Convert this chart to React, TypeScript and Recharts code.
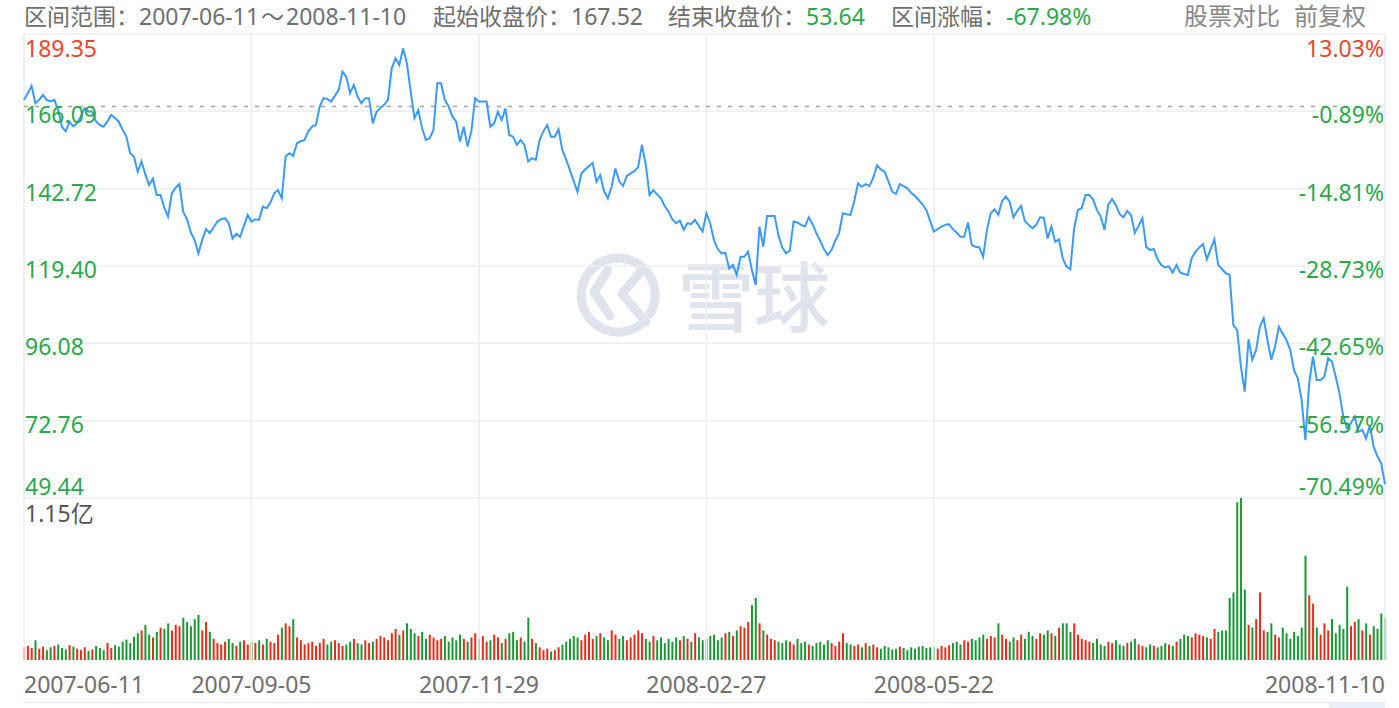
import React from "react";
import {
  Bar,
  BarChart,
  CartesianGrid,
  Cell,
  ComposedChart,
  Line,
  ReferenceLine,
  XAxis,
  YAxis,
} from "recharts";

const dateTicks = [0, 60, 120, 180, 240, 359];
const dateLabels = ["2007-06-11", "2007-09-05", "2007-11-29", "2008-02-27", "2008-05-22", "2008-11-10"];

const priceTicks = [49.44, 72.76, 96.08, 119.4, 142.72, 166.09, 189.35];
const pctLabels = ["-70.49%", "-56.57%", "-42.65%", "-28.73%", "-14.81%", "-0.89%", "13.03%"];

const startClose = 167.52;
const volMax = 11500; // 万股, 1.15亿

// daily close, one per trading day
const closes = [
  169.5, 171.5, 173.7, 168.5, 169.5, 171, 169.5, 169, 169.5, 166.4,
  161.4, 160, 162.9, 161.5, 162.5, 164.5, 167, 166, 166, 163,
  161.9, 161.4, 163, 164.9, 164, 162.9, 160.5, 158.4, 153.4, 152.4,
  147.8, 150.9, 147, 143.8, 145.8, 140.8, 140.8, 137, 134.3, 141.3,
  143, 144.1, 135.8, 133.5, 129.5, 127.2, 123.2, 127.2, 130.5, 129.3,
  131, 132.8, 133.5, 133.8, 132.3, 127.7, 129.1, 128.2, 131.5, 134.8,
  132.8, 133.5, 133.3, 137.3, 136.8, 138.5, 141.3, 142.3, 139.8, 152.4,
  153.4, 152.6, 156.4, 157, 157.4, 160, 161.4, 161.9, 167.5, 170,
  169.8, 169, 170.7, 172.5, 178, 176.5, 171.5, 174, 170.5, 168.5,
  170, 170, 162.4, 165.9, 167, 168, 169.5, 179, 182, 180,
  185, 180.5, 172, 164, 166.4, 161, 157.4, 157.9, 160.4, 174.5,
  174.5, 169.5, 167.5, 164.5, 162.9, 156.9, 161.4, 155.4, 160, 170,
  169, 169, 169, 161.4, 162.4, 165.9, 163.4, 166.9, 158.9, 158.4,
  155.9, 157.4, 155.9, 150.9, 151.9, 151.4, 157.4, 160, 161.9, 158.4,
  158.4, 160.6, 154.4, 151.5, 148.3, 145, 141.8, 147.3, 148.5, 149.5,
  150.5, 144.8, 146.8, 142, 139.8, 143.3, 148.8, 145, 143.5, 146.5,
  147.3, 148, 149.2, 155.9, 150, 140.8, 142.3, 141, 139.8, 137.5,
  135.8, 133.5, 132.3, 133.1, 130.3, 132.3, 132, 133.3, 131.5, 129.8,
  135.3, 132.3, 127.2, 124.5, 123.2, 123.4, 118.7, 119.7, 116.7, 122.2,
  122.2, 123.7, 118.2, 113.7, 131.3, 125.2, 134.5, 134.5, 134.5, 128.7,
  125, 123.2, 124, 132.8, 132.5, 131.8, 131.3, 134.1, 132, 129.3,
  127, 124.5, 122.7, 124.2, 127, 129.3, 135.3, 135, 134.8, 139,
  144.3, 143.3, 144.1, 143.5, 146, 149.8, 148.5, 147.8, 145, 141.8,
  141.1, 144.1, 143.5, 142.8, 141.5, 140.5, 139.3, 138, 136.3, 133,
  129.8, 130.5, 131.3, 131.8, 132, 130.5, 129.5, 128.2, 128.2, 132.5,
  125.7, 125.2, 125, 122.2, 130.3, 135.3, 136.5, 134.8, 139, 140.3,
  138.8, 134.1, 136, 137.5, 133, 131.8, 130.8, 131.8, 134.1, 134,
  127.7, 131.3, 126.7, 127.4, 121.7, 119.2, 118.4, 130.8, 136.3, 136.8,
  140.8, 140.8, 139.5, 136.3, 134.3, 130.3, 137.8, 139.6, 137.8, 135,
  134.1, 136, 134.8, 129.4, 131.5, 133.8, 125.2, 124.2, 124.5, 121.5,
  119.7, 119, 119.3, 117.4, 119.7, 117.4, 117, 116.7, 121.7, 123.7,
  125, 126, 121.4, 124.5, 127.4, 119.7, 118.5, 117.2, 116.8, 101.6,
  100.1, 89, 81.5, 97.3, 91.1, 94.1, 101.1, 103.6, 97, 91.1,
  95.1, 101.1, 99, 97.1, 94.1, 88, 85.5, 79, 66.9, 84,
  92.1, 85, 85, 86, 91.6, 90.6, 86, 81, 74, 70.4,
  72, 74, 69.4, 70, 67.4, 71.4, 64.9, 62, 59.9, 53.64,
];

// daily volume, 万股
const volumes = [
  900, 1000, 850, 1400, 800, 950, 700, 900, 1000, 1100,
  850, 750, 1050, 950, 800, 700, 900, 650, 750, 1000,
  850, 700, 1200, 850, 1050, 950, 1300, 1450, 1200, 1650,
  1900, 2100, 2500, 1800, 1600, 2000, 2300, 2200, 2600, 2100,
  2500, 2400, 3000, 2700, 2400, 2900, 3200, 2100, 2700, 2000,
  1500, 1200, 1100, 1300, 1500, 1200, 1000, 1300, 1400, 1100,
  1300, 1200, 1400, 1100, 1500, 1300, 1200, 1800, 2300, 2600,
  2400, 2900, 1600, 1400, 1100, 1200, 1300, 1000, 1200, 1500,
  1100, 1300, 1400, 1200, 1000, 1100, 1300, 1500, 1200, 1100,
  1400, 1200, 1300, 1500, 1700, 1600, 1400, 1900, 2200, 1800,
  2100, 2600, 2200, 1900, 1700, 2000, 1500, 1800, 1600, 1400,
  1500, 1700, 1300, 1600, 1400, 1800, 1500, 1300, 1600, 1900,
  1500, 1700, 1300, 1400, 1800, 1600, 1200, 1500, 1900, 2000,
  1400, 1600, 1300, 3000, 1500, 1200, 900, 700, 800, 600,
  700, 900, 1100, 1300, 1500, 1700, 1600, 1400, 1800, 2000,
  1500, 1700, 1900, 1600, 1400, 2100, 1800, 1500, 1700, 1400,
  1600, 1800, 2100, 1900, 1500, 1300, 1700, 1400, 1600, 1200,
  1500, 1300, 1600, 1400, 1700, 1500, 1300, 1900, 1600, 1400,
  1500, 1700, 1800, 1400, 1600, 1900, 2000, 1700, 2100, 2400,
  2300, 2700, 3900, 4400, 2600, 2100, 1800, 1500, 1400, 1300,
  1200, 1400, 1300, 1100, 1500, 1200, 1300, 1100, 1000, 1200,
  1300, 1100, 1400, 1200, 1000, 1300, 1900, 1200, 1100, 1000,
  1100, 900, 1200, 1000, 1100, 900, 800, 1000, 900, 750,
  800, 950, 850, 700, 900, 800, 950, 1000, 850, 900,
  950, 800, 1000, 900, 1050, 1200, 1300, 1100, 1400, 1300,
  1500, 1400, 1600, 1800, 1500, 1700, 1600, 2600, 1800, 1500,
  1300, 1600, 1400, 1800, 1500, 2000, 1700, 1500, 1900, 1800,
  2100, 1900, 1700, 2300, 2600, 2600, 2000, 2600, 1800, 1500,
  1400, 1300, 1200, 1500, 1100, 1000, 1300, 1200, 1400, 1100,
  1000, 1200, 1300, 1500, 1100, 1000, 900, 1100, 1000, 900,
  1000, 1200, 1100, 1000, 1300, 1500, 1800, 1700, 1600, 1900,
  1800, 1700, 1600, 1500, 2200, 2000, 2100, 2100, 4400, 4800,
  11200, 11500, 5000, 2500, 2300, 2900, 4800, 2100, 2000, 2600,
  1800, 1600, 2300, 1900, 1500, 2000, 1700, 2300, 7400, 4600,
  4000, 2300, 1800, 2600, 2100, 2900, 1900, 2500, 2200, 5200,
  2400, 2700, 2900, 2100, 2600, 1800, 2400, 2200, 3300, 3000,
];

const rows = closes.map((c, i) => ({
  i,
  c,
  v: volumes[i],
  up: c >= (i === 0 ? startClose : closes[i - 1]),
}));

const font = "'Noto Sans', 'Noto Sans CJK SC', sans-serif";
const red = "#e8472f";
const green = "#2ea64e";
const barRed = "#e02f1c";
const barGreen = "#1b9636";
const gridColor = "#eceef2";
const textGray = "#6e6e6e";
const fs = 23;

const PriceTick = (props: any) => {
  const { x, y, payload } = props;
  const v = payload.value;
  const top = v === priceTicks[priceTicks.length - 1];
  const dy = top ? 14 : v === priceTicks[0] ? -12 : 3;
  return (
    <text x={x + 1} y={y + dy} textAnchor="start" dominantBaseline="central" fontSize={fs} fontFamily={font}
      fill={top ? red : green}>
      {v.toFixed(2)}
    </text>
  );
};

const PctTick = (props: any) => {
  const { x, y, payload } = props;
  const idx = priceTicks.indexOf(payload.value);
  const top = idx === priceTicks.length - 1;
  const dy = top ? 14 : idx === 0 ? -12 : 3;
  return (
    <text x={x - 1} y={y + dy} textAnchor="end" dominantBaseline="central" fontSize={fs} fontFamily={font}
      fill={top ? red : green}>
      {pctLabels[idx]}
    </text>
  );
};

const DateTick = (props: any) => {
  const { x, y, payload } = props;
  const idx = dateTicks.indexOf(payload.value);
  const anchor = idx === 0 ? "start" : idx === dateTicks.length - 1 ? "end" : "middle";
  return (
    <text x={x} y={y + 24} textAnchor={anchor} dominantBaseline="central" fontSize={fs} fontFamily={font} fill={textGray}>
      {dateLabels[idx]}
    </text>
  );
};

const NoTick = () => <g />;

function Watermark() {
  return (
    <svg width={1399} height={708} style={{ position: "absolute", left: 0, top: 0 }}>
      <g fill="none" stroke="#dfe4ec" strokeWidth={9} strokeLinecap="round" strokeLinejoin="round">
        <path d="M 640 325 A 37 37 0 1 1 650 314" />
        <path d="M 608 270 L 594 292 L 610 316" />
        <path d="M 642 270 L 622 294 L 646 322" />
      </g>
      <text x={678} y={326} fontSize={76} fontWeight={500} fontFamily="'Noto Sans CJK SC', sans-serif" fill="#dfe4ec">
        雪球
      </text>
    </svg>
  );
}

export default function App() {
  return (
    <div style={{ position: "absolute", left: 0, top: 0, width: 1399, height: 708, background: "#fff", overflow: "hidden", fontFamily: font }}>
      <Watermark />

      <div style={{ position: "absolute", top: 0, left: 0, width: 1399, height: 34, fontSize: fs, lineHeight: "32px", color: textGray, whiteSpace: "nowrap" }}>
        <span style={{ position: "absolute", left: 24 }}>
          区间范围：2007-06-11<span style={{ margin: "0 2px" }}>～</span>2008-11-10
        </span>
        <span style={{ position: "absolute", left: 433 }}>起始收盘价：167.52</span>
        <span style={{ position: "absolute", left: 668 }}>
          结束收盘价：<span style={{ color: green }}>53.64</span>
        </span>
        <span style={{ position: "absolute", left: 891 }}>
          区间涨幅：<span style={{ color: green }}>-67.98%</span>
        </span>
        <span style={{ position: "absolute", left: 1184, color: "#888", fontSize: 24 }}>
          股票对比<span style={{ marginLeft: 14 }}>前复权</span>
        </span>
      </div>

      <div style={{ position: "absolute", left: 0, top: 0 }}>
        <ComposedChart width={1399} height={505} data={rows} margin={{ top: 34, right: 13, bottom: 6, left: 23 }}>
          <CartesianGrid yAxisId="p" stroke={gridColor} strokeWidth={1.5} />
          <XAxis dataKey="i" type="number" domain={[0, 359]} ticks={dateTicks} interval={0} height={1}
            tick={<NoTick />} axisLine={false} tickLine={false} />
          <YAxis yAxisId="p" domain={[priceTicks[0], priceTicks[priceTicks.length - 1]]} ticks={priceTicks} interval={0}
            width={1} axisLine={false} tickLine={false} tickSize={0} tickMargin={0} tick={<PriceTick />} allowDataOverflow />
          <YAxis yAxisId="r" orientation="right" domain={[priceTicks[0], priceTicks[priceTicks.length - 1]]} ticks={priceTicks} interval={0}
            width={1} axisLine={false} tickLine={false} tickSize={0} tickMargin={0} tick={<PctTick />} allowDataOverflow />
          {dateTicks.map((t) => (
            <ReferenceLine key={t} yAxisId="p" x={t} stroke={gridColor} strokeWidth={1.5} ifOverflow="extendDomain" />
          ))}
          <ReferenceLine yAxisId="p" y={startClose} stroke="#a3a3a3" strokeWidth={1.5} strokeDasharray="4 7" />
          <Line yAxisId="p" dataKey="c" type="linear" stroke="#3d9af4" strokeWidth={2} dot={false} isAnimationActive={false} />
        </ComposedChart>
      </div>

      <div style={{ position: "absolute", left: 0, top: 498 }}>
        <BarChart width={1399} height={202} data={rows} margin={{ top: 0, right: 13, bottom: 0, left: 23 }}>
          <XAxis dataKey="i" type="number" domain={[0, 359]} ticks={dateTicks} interval={0} height={40}
            axisLine={false} tickLine={false} tickSize={0} tickMargin={0} tick={<DateTick />} />
          <YAxis domain={[0, volMax]} width={1} tick={false} axisLine={false} tickLine={false} />
          <YAxis yAxisId="r" orientation="right" width={1} tick={false} axisLine={false} tickLine={false} />
          {dateTicks.map((t) => (
            <ReferenceLine key={t} x={t} stroke={gridColor} strokeWidth={1.5} ifOverflow="extendDomain" />
          ))}
          <Bar dataKey="v" barSize={2} isAnimationActive={false}>
            {rows.map((r) => (
              <Cell key={r.i} fill={r.up ? barRed : barGreen} />
            ))}
          </Bar>
        </BarChart>
      </div>

      <div style={{ position: "absolute", left: 25, top: 503, fontSize: fs, lineHeight: "20px", color: "#555" }}>1.15亿</div>

      <div style={{ position: "absolute", left: 24, top: 702, width: 1361, height: 8, borderTop: "1.5px solid #e3e7ee" }}>
        <div style={{ position: "absolute", right: 0, top: 0, width: 56, height: 8, background: "#e9f0fa" }} />
      </div>
    </div>
  );
}
